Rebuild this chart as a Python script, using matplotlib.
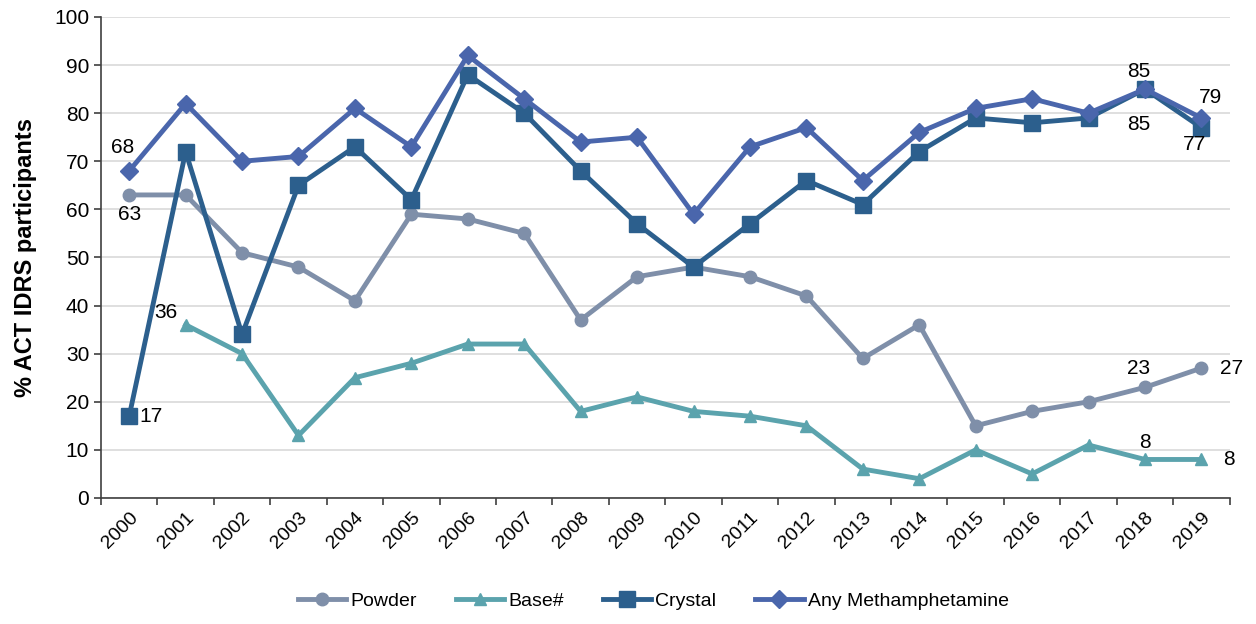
"""
ACT IDRS methamphetamine use by form, 2000-2019
"""

import numpy as np
import matplotlib
import matplotlib.pyplot as plt
matplotlib.use("AGG")

plt.rcParams['font.family'] = ['Liberation Sans', 'DejaVu Sans']

years = [str(y) for y in range(2000, 2020)]
powder = [63, 63, 51, 48, 41, 59, 58, 55, 37, 46, 48, 46, 42, 29, 36, 15, 18, 20, 23, 27]
base = [np.nan, 36, 30, 13, 25, 28, 32, 32, 18, 21, 18, 17, 15, 6, 4, 10, 5, 11, 8, 8]
crystal = [17, 72, 34, 65, 73, 62, 88, 80, 68, 57, 48, 57, 66, 61, 72, 79, 78, 79, 85, 77]
any_meth = [68, 82, 70, 71, 81, 73, 92, 83, 74, 75, 59, 73, 77, 66, 76, 81, 83, 80, 85, 79]

fig = plt.figure(figsize=(12.56, 6.24), dpi=100)
ax = fig.add_axes([0.0804, 0.202, 0.8986, 0.7708])

x = np.arange(len(years))
ax.plot(x, powder, '-o', color='#7F8FA9', lw=3.5, ms=9, label='Powder')
ax.plot(x, base, '-^', color='#5BA3AD', lw=3.5, ms=9, label='Base#')
ax.plot(x, crystal, '-s', color='#2C5F8D', lw=3.5, ms=12, label='Crystal')
ax.plot(x, any_meth, '-D', color='#4A66AC', lw=3.5, ms=9, label='Any Methamphetamine')

# data labels: index, value, offset in pixels (dx, dy up)
labels = [
    (0, any_meth[0], -7, 23),
    (0, powder[0], 0, -20),
    (0, crystal[0], 22, 0),
    (1, base[1], -20, 12),
    (18, any_meth[18], -6, 18),
    (18, crystal[18], -6, -35),
    (19, any_meth[19], 9, 20),
    (19, crystal[19], -7, -17),
    (18, powder[18], -6, 19),
    (19, powder[19], 30, 0),
    (18, base[18], 0, 17),
    (19, base[19], 28, 0),
]
for xi, yi, dx, dy in labels:
    ax.annotate(str(int(yi)), (xi, yi), xytext=(dx * 0.72, dy * 0.72),
                textcoords='offset points', ha='center', va='center',
                fontsize=15, color='black')

ax.set_xlim(-0.5, len(years) - 0.5)
ax.set_ylim(0, 100)
ax.set_yticks(range(0, 101, 10))
ax.set_xticks(x)
ax.set_xticklabels(years, rotation=45, ha='right', rotation_mode='anchor', fontsize=14)
ax.set_xticks(np.arange(-0.5, len(years)), minor=True)
ax.tick_params(axis='x', which='major', length=0, pad=8)
ax.tick_params(axis='x', which='minor', length=5, width=1.2, color='#404040')
ax.tick_params(axis='y', labelsize=15, length=5, width=1.2, color='#404040')

ax.grid(axis='y', color='#D9D9D9', lw=1.2)
ax.set_axisbelow(True)
for s in ['top', 'right']:
    ax.spines[s].set_visible(False)
for s in ['left', 'bottom']:
    ax.spines[s].set_color('#404040')
    ax.spines[s].set_linewidth(1.2)

ax.set_ylabel('% ACT IDRS participants', fontsize=17, fontweight='bold', labelpad=12)

fig.legend(loc='lower center', bbox_to_anchor=(0.52, -0.005), ncol=4, frameon=False,
           fontsize=14, handlelength=2.5, columnspacing=2, handletextpad=0.2)

plt.savefig('out.png', dpi=100)
